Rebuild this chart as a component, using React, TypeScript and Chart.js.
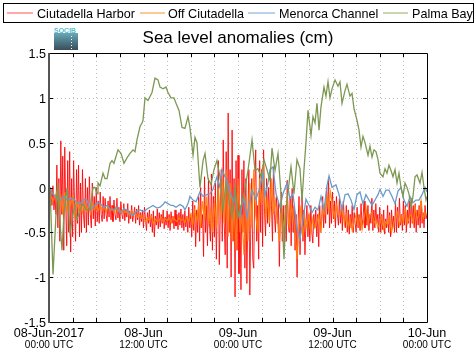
import { useEffect, useRef } from "react";
import { Chart, registerables } from "chart.js";

Chart.register(...registerables);

// ---- data (time in hours since 08-Jun-2017 00:00 UTC) ----
const STEP_HARBOR = 0.125; // sampling of Ciutadella Harbor (hours)
const STEP_OFF = 0.25; // sampling of Off Ciutadella (hours)

const seriesNames = ["Ciutadella Harbor", "Off Ciutadella", "Menorca Channel", "Palma Bay"];

// one row per hour, 8 samples per row
const ciutadellaHarbor = [
  -0.05, -0.12, -0.02, -0.2, 0.02, -0.25, -0.1, -0.3,
  0.25, -0.45, 0.1, -0.6, 0.52, -0.3, 0.35, -0.7,
  0.45, -0.2, -0.65, 0.3, -0.5, 0.4, -0.72, 0.1,
  -0.55, 0.3, -0.2, -0.6, 0.2, -0.4, 0.25, -0.55,
  0.05, -0.5, 0.2, -0.3, -0.45, 0.1, -0.5, 0.0,
  -0.42, 0.12, -0.3, -0.45, 0.05, -0.35, -0.1, -0.43,
  0.0, -0.38, -0.15, -0.4, -0.05, -0.3, -0.38, -0.1,
  -0.35, -0.12, -0.3, -0.38, -0.15, -0.33, -0.1, -0.36,
  -0.2, -0.38, -0.14, -0.3, -0.36, -0.12, -0.34, -0.22,
  -0.38, -0.16, -0.3, -0.35, -0.18, -0.37, -0.25, -0.33,
  -0.18, -0.4, -0.26, -0.35, -0.2, -0.38, -0.3, -0.22,
  -0.4, -0.24, -0.36, -0.2, -0.42, -0.28, -0.38, -0.25,
  -0.45, -0.22, -0.35, -0.48, -0.28, -0.4, -0.25, -0.44,
  -0.3, -0.5, -0.26, -0.55, -0.32, -0.42, -0.24, -0.46,
  -0.28, -0.44, -0.3, -0.4, -0.25, -0.46, -0.33, -0.42,
  -0.26, -0.45, -0.3, -0.48, -0.27, -0.4, -0.32, -0.46,
  -0.25, -0.43, -0.3, -0.47, -0.28, -0.42, -0.24, -0.45,
  -0.3, -0.48, -0.26, -0.44, -0.32, -0.5, -0.22, -0.45,
  -0.3, -0.55, -0.15, -0.48, -0.2, -0.66, -0.25, -0.5,
  -0.1, -0.6, 0.0, -0.45, -0.3, -0.77, 0.12, -0.5,
  -0.2, -0.65, 0.1, -0.4, -0.6, 0.15, -0.7, -0.1,
  -0.55, 0.05, -0.8, -0.2, 0.3, -0.86, -0.3, 0.2,
  -0.6, 0.53, -0.4, -0.75, 0.4, -0.9, 0.83, -0.5,
  0.2, -1.0, 0.64, -0.6, 0.1, -1.22, 0.3, -0.7,
  0.36, -0.96, -0.2, -1.14, 0.2, -0.5, 0.3, -0.9,
  0.1, -1.07, -0.3, 0.2, -1.2, -0.4, 0.1, -0.8,
  -0.9, 0.0, 0.42, -0.6, -0.2, -0.8, 0.3, -0.5,
  0.2, -0.66, 0.42, -0.3, -0.54, 0.1, -0.4, 0.0,
  -0.44, 0.12, -0.2, -0.6, 0.23, -0.3, -0.5, -0.1,
  -0.4, -0.15, -0.88, -0.3, -0.05, -0.6, -0.2, -0.7,
  -0.2, -0.6, 0.08, -0.4, -0.5, -0.1, -0.65, -0.01,
  -0.5, -0.2, -0.7, -0.3, -1.0, -0.4, -0.1, -0.75,
  -0.3, -0.1, -0.6, -0.25, -0.75, -0.4, -0.2, -0.55,
  -0.3, -0.6, -0.2, -0.5, -0.62, -0.3, -0.45, -0.25,
  -0.55, -0.3, -0.66, -0.2, -0.5, -0.35, -0.1, -0.45,
  -0.2, -0.4, 0.0, -0.3, 0.1, -0.45, -0.15, -0.4,
  -0.05, -0.35, -0.15, -0.45, -0.1, -0.3, -0.42, -0.12,
  -0.4, -0.2, -0.48, -0.15, -0.35, -0.45, -0.2, -0.5,
  -0.25, -0.52, -0.3, -0.45, -0.2, -0.5, -0.28, -0.4,
  -0.5, -0.22, -0.45, -0.3, -0.48, -0.18, -0.42, -0.35,
  -0.15, -0.45, -0.25, -0.42, -0.2, -0.48, -0.3, -0.4,
  -0.12, -0.48, -0.25, -0.45, -0.18, -0.4, -0.3, -0.5,
  -0.22, -0.5, -0.3, -0.47, -0.25, -0.52, -0.35, -0.45,
  -0.2, -0.5, -0.28, -0.55, -0.25, -0.45, -0.32, -0.5,
  -0.15, -0.5, -0.22, -0.45, -0.12, -0.42, -0.3, -0.48,
  -0.15, -0.42, -0.2, -0.5, -0.25, -0.4, -0.15, -0.45,
  -0.12, -0.4, -0.2, -0.45, -0.18, -0.5, -0.25, -0.42,
  -0.2, -0.45, -0.15, -0.4, -0.28, -0.45, -0.2, -0.35,
  -0.3,
];

// one row per hour, 4 samples per row
const offCiutadella = [
  -0.05, -0.1, -0.15, -0.1,
  -0.05, -0.2, -0.1, -0.3,
  -0.05, -0.25, -0.15, -0.2,
  -0.1, -0.3, -0.15, -0.25,
  -0.2, -0.28, -0.16, -0.26,
  -0.2, -0.28, -0.18, -0.25,
  -0.2, -0.26, -0.2, -0.25,
  -0.22, -0.27, -0.21, -0.26,
  -0.23, -0.28, -0.22, -0.27,
  -0.25, -0.29, -0.24, -0.28,
  -0.27, -0.31, -0.26, -0.3,
  -0.29, -0.33, -0.3, -0.34,
  -0.33, -0.38, -0.34, -0.37,
  -0.32, -0.4, -0.35, -0.38,
  -0.36, -0.33, -0.38, -0.35,
  -0.37, -0.34, -0.39, -0.33,
  -0.36, -0.38, -0.34, -0.37,
  -0.35, -0.39, -0.33, -0.38,
  -0.3, -0.42, -0.25, -0.38,
  -0.2, -0.45, -0.15, -0.35,
  -0.1, -0.4, -0.25, -0.5,
  -0.15, -0.45, 0.0, -0.35,
  0.1, -0.4, 0.2, -0.55,
  0.05, -0.6, -0.2, -0.7,
  0.1, -0.5, -0.3, -0.75,
  -0.1, -0.6, 0.05, -0.45,
  0.2, -0.3, -0.5, 0.1,
  -0.2, 0.25, -0.35, -0.1,
  -0.4, 0.1, -0.3, -0.15,
  -0.35, -0.6, -0.25, -0.45,
  -0.3, -0.1, -0.45, -0.2,
  -0.3, -0.5, -0.8, -0.4,
  -0.2, -0.55, -0.35, -0.45,
  -0.3, -0.5, -0.35, -0.45,
  -0.4, -0.3, -0.5, -0.25,
  -0.3, -0.1, -0.25, -0.05,
  -0.2, -0.35, -0.2, -0.3,
  -0.3, -0.22, -0.4, -0.3,
  -0.45, -0.35, -0.48, -0.38,
  -0.3, -0.42, -0.33, -0.47,
  -0.35, -0.22, -0.4, -0.3,
  -0.28, -0.4, -0.35, -0.45,
  -0.4, -0.33, -0.47, -0.38,
  -0.42, -0.33, -0.5, -0.4,
  -0.35, -0.28, -0.42, -0.32,
  -0.38, -0.25, -0.4, -0.33,
  -0.3, -0.4, -0.22, -0.35,
  -0.3, -0.15, -0.35, -0.28,
  -0.3,
];

const menorcaChannelHours = [
  0, 0.51, 1.02, 1.4, 1.9, 2.29, 2.67, 3.05, 3.56, 3.94,
  4.44, 4.83, 5.21, 5.59, 6.1, 6.48, 6.98, 7.37, 7.75, 8.13,
  8.63, 9.02, 9.52, 9.9, 10.29, 10.67, 11.17, 11.56, 12.06, 12.44,
  12.83, 13.21, 13.71, 14.1, 14.48, 14.73, 15.11, 15.49, 15.75, 16.13,
  16.63, 17.02, 17.27, 17.65, 17.9, 18.29, 18.67, 19.17, 19.56, 20.06,
  20.44, 20.83, 21.33, 21.71, 21.97, 22.35, 22.6, 22.98, 23.37, 23.62,
  23.87, 24.25, 24.51, 24.76, 25.14, 25.52, 25.78, 26.29, 26.79, 27.17,
  27.43, 27.81, 28.06, 28.44, 28.83, 29.33, 29.71, 30.22, 30.6, 30.98,
  31.49, 31.87, 32.25, 32.63, 33.02, 33.4, 33.78, 34.16, 34.54, 34.92,
  35.3, 35.56, 35.94, 36.44, 36.83, 37.21, 37.59, 37.97, 38.35, 38.73,
  39.11, 39.49, 39.87, 40.25, 40.63, 41.02, 41.4, 41.78, 42.03, 42.41,
  42.79, 43.17, 43.56, 43.94, 44.32, 44.7, 45.08, 45.46, 45.84, 46.22,
  46.6, 46.98, 47.37, 47.75, 48,
];
const menorcaChannel = [
  0.0, -0.07, -0.12, -0.14, -0.1, -0.14, -0.12, -0.12, -0.17, -0.18,
  -0.13, -0.14, -0.25, -0.22, -0.17, -0.18, -0.22, -0.2, -0.24, -0.25,
  -0.22, -0.28, -0.24, -0.25, -0.29, -0.31, -0.26, -0.25, -0.27, -0.24,
  -0.22, -0.2, -0.23, -0.22, -0.19, -0.16, -0.18, -0.2, -0.2, -0.22,
  -0.19, -0.21, -0.25, -0.18, -0.1, -0.14, -0.16, -0.05, -0.1, -0.08,
  -0.07, -0.02, 0.12, 0.0, 0.2, 0.12, 0.08, -0.05, -0.15, -0.1,
  -0.25, -0.33, -0.2, -0.12, -0.33, -0.15, -0.03, -0.13, 0.0, 0.16,
  -0.09, 0.05, 0.2, 0.23, -0.07, -0.22, -0.07, 0.05, -0.12, -0.07,
  -0.45, -0.58, -0.36, -0.13, -0.2, -0.28, -0.22, -0.25, -0.1, -0.25,
  0.02, 0.13, 0.0, 0.03, -0.08, -0.25, -0.08, -0.07, -0.14, -0.25,
  -0.08, -0.05, -0.18, -0.08, -0.14, -0.2, -0.14, -0.08, -0.02, -0.1,
  -0.03, -0.03, -0.1, -0.18, -0.04, 0.0, -0.14, -0.21, -0.1, -0.17,
  -0.14, -0.14, -0.08, 0.0, -0.05,
];

const palmaBayHours = [
  0, 0.13, 0.51, 0.89, 1.14, 1.4, 1.65, 1.9, 2.29, 2.67,
  3.05, 3.3, 3.56, 3.94, 4.32, 4.7, 5.21, 5.59, 5.84, 6.1,
  6.22, 6.48, 6.86, 7.11, 7.37, 7.75, 8.0, 8.25, 8.76, 9.14,
  9.52, 9.9, 10.29, 10.67, 10.92, 11.17, 11.56, 11.81, 11.94, 12.19,
  12.57, 13.08, 13.46, 13.84, 14.1, 14.48, 14.86, 15.11, 15.49, 15.87,
  16.13, 16.51, 16.89, 17.27, 17.65, 17.9, 18.29, 18.54, 18.79, 19.17,
  19.56, 19.81, 20.19, 20.57, 20.95, 21.33, 21.71, 22.1, 22.48, 22.86,
  23.24, 23.62, 24.0, 24.25, 24.76, 25.27, 25.78, 26.16, 26.54, 26.92,
  27.3, 27.68, 28.06, 28.32, 28.7, 29.08, 29.46, 29.84, 30.1, 30.48,
  30.73, 31.11, 31.49, 31.87, 32.13, 32.38, 32.63, 32.89, 33.27, 33.52,
  33.78, 34.03, 34.29, 34.54, 34.92, 35.17, 35.43, 35.68, 35.94, 36.32,
  36.7, 36.95, 37.21, 37.59, 37.84, 38.22, 38.48, 38.73, 39.11, 39.37,
  39.62, 39.87, 40.13, 40.51, 40.76, 41.02, 41.27, 41.52, 41.78, 42.03,
  42.41, 42.67, 42.92, 43.17, 43.43, 43.68, 43.94, 44.19, 44.44, 44.7,
  44.95, 45.21, 45.46, 45.71, 45.97, 46.22, 46.48, 46.73, 47.11, 47.37,
  47.62, 47.87, 48.0,
];
const palmaBay = [
  0.0, 0.0, -0.97, -0.3, 0.05, -0.4, -0.7, -0.3, 0.0, -0.5,
  -0.29, -0.2, -0.36, -0.25, -0.18, -0.25, -0.25, 0.0, 0.0, -0.07,
  0.05, 0.02, 0.16, 0.1, 0.1, 0.27, 0.3, 0.27, 0.42, 0.38,
  0.27, 0.33, 0.38, 0.42, 0.4, 0.53, 0.68, 0.72, 0.75, 1.0,
  0.97, 1.06, 1.22, 1.2, 1.12, 1.1, 1.12, 1.06, 1.0, 1.0,
  0.94, 0.86, 0.67, 0.66, 0.79, 0.67, 0.36, 0.56, 0.5, 0.0,
  0.3, 0.38, 0.1, 0.03, 0.2, 0.3, 0.12, -0.25, 0.05, -0.14,
  -0.33, 0.0, -0.33, -0.25, -0.07, 0.19, 0.53, 0.19, 0.21, 0.12,
  0.31, 0.2, 0.08, 0.44, 0.19, 0.38, -0.07, -0.8, -0.25, 0.05,
  0.23, -0.07, 0.31, 0.21, -0.14, 0.2, 0.5, 0.86, 0.58, 0.79,
  0.72, 0.94, 0.64, 0.9, 1.12, 1.02, 1.18, 1.0, 1.1, 1.2,
  1.13, 1.18, 0.94, 1.08, 1.15, 1.02, 1.05, 0.88, 0.75, 0.64,
  0.45, 0.57, 0.5, 0.36, 0.46, 0.34, 0.42, 0.4, 0.31, 0.16,
  0.12, 0.21, 0.16, 0.25, 0.19, 0.12, 0.2, 0.05, 0.16, 0.0,
  -0.1, 0.05, 0.0, -0.07, -0.22, -0.1, 0.12, 0.14, 0.05, 0.17,
  0.0, -0.14, -0.1,
];

const yTicks = [-1.5, -1, -0.5, 0, 0.5, 1, 1.5];
const yTickLabels = ["-1.5", "-1", "-0.5", "0", "0.5", "1", "1.5"];
const xMajorHours = [0, 12, 24, 36, 48];
const xDateLabels = ["08-Jun-2017", "08-Jun", "09-Jun", "09-Jun", "10-Jun"];
const xTimeLabels = ["00:00 UTC", "12:00 UTC", "00:00 UTC", "12:00 UTC", "00:00 UTC"];
const X_GRID_STEP = 3;
const X_MAX = 48;

const lineColors = ["rgba(255,0,0,0.85)", "rgba(255,130,0,0.9)", "#6b9bc8", "#7d9852"];
const legendColors = ["#ff8c8c", "#ffb46e", "#a4c2e2", "#b4c894"];
const legendLines = [[7, 33], [140, 165], [248, 275], [383, 408]];
const legendTextX = [37, 168, 279, 412];

const FONT = "'Liberation Sans', Arial, Helvetica, sans-serif";

const framePlugin = {
  id: "framePlugin",
  beforeDatasetsDraw(chart: any) {
    const { ctx, chartArea: a, scales } = chart;
    const x = scales.x;
    const y = scales.y;
    ctx.save();
    ctx.strokeStyle = "#bdbdbd";
    ctx.lineWidth = 1;
    ctx.setLineDash([1, 3]);
    for (let h = X_GRID_STEP; h < X_MAX; h += X_GRID_STEP) {
      const px = Math.round(x.getPixelForValue(h)) + 0.5;
      ctx.beginPath();
      ctx.moveTo(px, a.top);
      ctx.lineTo(px, a.bottom);
      ctx.stroke();
    }
    for (const v of yTicks) {
      if (v === yTicks[0] || v === yTicks[yTicks.length - 1]) continue;
      const py = Math.round(y.getPixelForValue(v)) + 0.5;
      ctx.beginPath();
      ctx.moveTo(a.left, py);
      ctx.lineTo(a.right, py);
      ctx.stroke();
    }
    ctx.restore();
  },
  afterDatasetsDraw(chart: any) {
    const { ctx, chartArea: a, scales } = chart;
    const x = scales.x;
    const y = scales.y;
    ctx.save();
    ctx.setLineDash([]);
    ctx.strokeStyle = "#000";
    ctx.lineWidth = 1;
    ctx.beginPath();
    ctx.moveTo(a.left, a.top + 0.5);
    ctx.lineTo(a.right + 0.5, a.top + 0.5);
    ctx.lineTo(a.right + 0.5, a.bottom + 0.5);
    ctx.lineTo(a.left, a.bottom + 0.5);
    ctx.stroke();
    ctx.beginPath();
    for (let h = X_GRID_STEP; h < X_MAX; h += X_GRID_STEP) {
      const px = Math.round(x.getPixelForValue(h)) + 0.5;
      ctx.moveTo(px, a.top);
      ctx.lineTo(px, a.top + 4);
      ctx.moveTo(px, a.bottom);
      ctx.lineTo(px, a.bottom - 4);
    }
    for (const v of yTicks) {
      const py = Math.round(y.getPixelForValue(v)) + 0.5;
      ctx.moveTo(a.right, py);
      ctx.lineTo(a.right - 4, py);
      ctx.moveTo(a.left, py);
      ctx.lineTo(a.left + 4, py);
    }
    ctx.stroke();
    ctx.strokeStyle = "#555";
    ctx.lineWidth = 2;
    ctx.beginPath();
    ctx.moveTo(a.left, a.top);
    ctx.lineTo(a.left, a.bottom + 1);
    ctx.stroke();

    ctx.fillStyle = "#000";
    ctx.font = `12.6px ${FONT}`;
    ctx.textAlign = "right";
    ctx.textBaseline = "alphabetic";
    yTicks.forEach((v, i) => {
      const py = y.getPixelForValue(v);
      ctx.fillText(yTickLabels[i], a.left - 3, py + 5);
    });
    ctx.textAlign = "center";
    xMajorHours.forEach((h, i) => {
      const px = x.getPixelForValue(h);
      ctx.font = `12.6px ${FONT}`;
      ctx.fillText(xDateLabels[i], px, a.bottom + 15);
      ctx.font = `10px ${FONT}`;
      ctx.fillText(xTimeLabels[i], px, a.bottom + 26);
    });

    ctx.font = `17px ${FONT}`;
    ctx.textAlign = "center";
    ctx.fillText("Sea level anomalies (cm)", 238, 43);

    ctx.lineWidth = 1;
    ctx.strokeStyle = "#000";
    ctx.strokeRect(3.5, 3.5, 470, 19);
    ctx.font = `12.6px ${FONT}`;
    ctx.textAlign = "left";
    seriesNames.forEach((name, i) => {
      ctx.strokeStyle = legendColors[i];
      ctx.lineWidth = 1.5;
      ctx.beginPath();
      ctx.moveTo(legendLines[i][0], 13);
      ctx.lineTo(legendLines[i][1], 13);
      ctx.stroke();
      ctx.fillStyle = "#000";
      ctx.fillText(name, legendTextX[i], 17.5);
    });

    const g = ctx.createLinearGradient(0, 33, 0, 50);
    g.addColorStop(0, "#6aa8b6");
    g.addColorStop(0.5, "#4d7a88");
    g.addColorStop(1, "#3b4d5a");
    ctx.fillStyle = g;
    ctx.fillRect(54, 33, 24, 17);
    ctx.fillStyle = "#ffffff";
    for (let yy = 36; yy < 50; yy += 3) ctx.fillRect(71, yy, 1, 1);
    ctx.fillStyle = "#55bccc";
    ctx.font = `bold 7px ${FONT}`;
    ctx.textAlign = "left";
    ctx.fillText("SOCIB", 54, 32.5);
    ctx.restore();
  },
};

export default function App() {
  const ref = useRef<HTMLCanvasElement | null>(null);
  useEffect(() => {
    const canvas = ref.current;
    if (!canvas) return;
    const stepped = (arr: number[], step: number) => arr.map((v, i) => ({ x: i * step, y: v }));
    const paired = (hours: number[], vals: number[]) => vals.map((v, i) => ({ x: hours[i], y: v }));
    const chart = new Chart(canvas, {
      type: "line",
      data: {
        datasets: [
          { label: seriesNames[0], data: stepped(ciutadellaHarbor, STEP_HARBOR), borderColor: lineColors[0], borderWidth: 1, pointRadius: 0, order: 4 },
          { label: seriesNames[1], data: stepped(offCiutadella, STEP_OFF), borderColor: lineColors[1], borderWidth: 1.2, pointRadius: 0, order: 3 },
          { label: seriesNames[2], data: paired(menorcaChannelHours, menorcaChannel), borderColor: lineColors[2], borderWidth: 1.3, pointRadius: 0, order: 2 },
          { label: seriesNames[3], data: paired(palmaBayHours, palmaBay), borderColor: lineColors[3], borderWidth: 1.3, pointRadius: 0, order: 1 },
        ],
      },
      options: {
        animation: false,
        responsive: false,
        maintainAspectRatio: false,
        layout: { padding: { left: 49, right: 49, top: 53, bottom: 37 } },
        elements: { line: { tension: 0 } },
        scales: {
          x: { type: "linear", min: 0, max: X_MAX, display: false },
          y: { type: "linear", min: -1.5, max: 1.5, display: false },
        },
        plugins: { legend: { display: false }, tooltip: { enabled: false }, title: { display: false } },
      },
      plugins: [framePlugin],
    } as any);
    return () => chart.destroy();
  }, []);
  return (
    <div style={{ position: "fixed", left: 0, top: 0, width: 476, height: 359, background: "#fff" }}>
      <canvas ref={ref} width={476} height={359} style={{ display: "block" }} />
    </div>
  );
}
